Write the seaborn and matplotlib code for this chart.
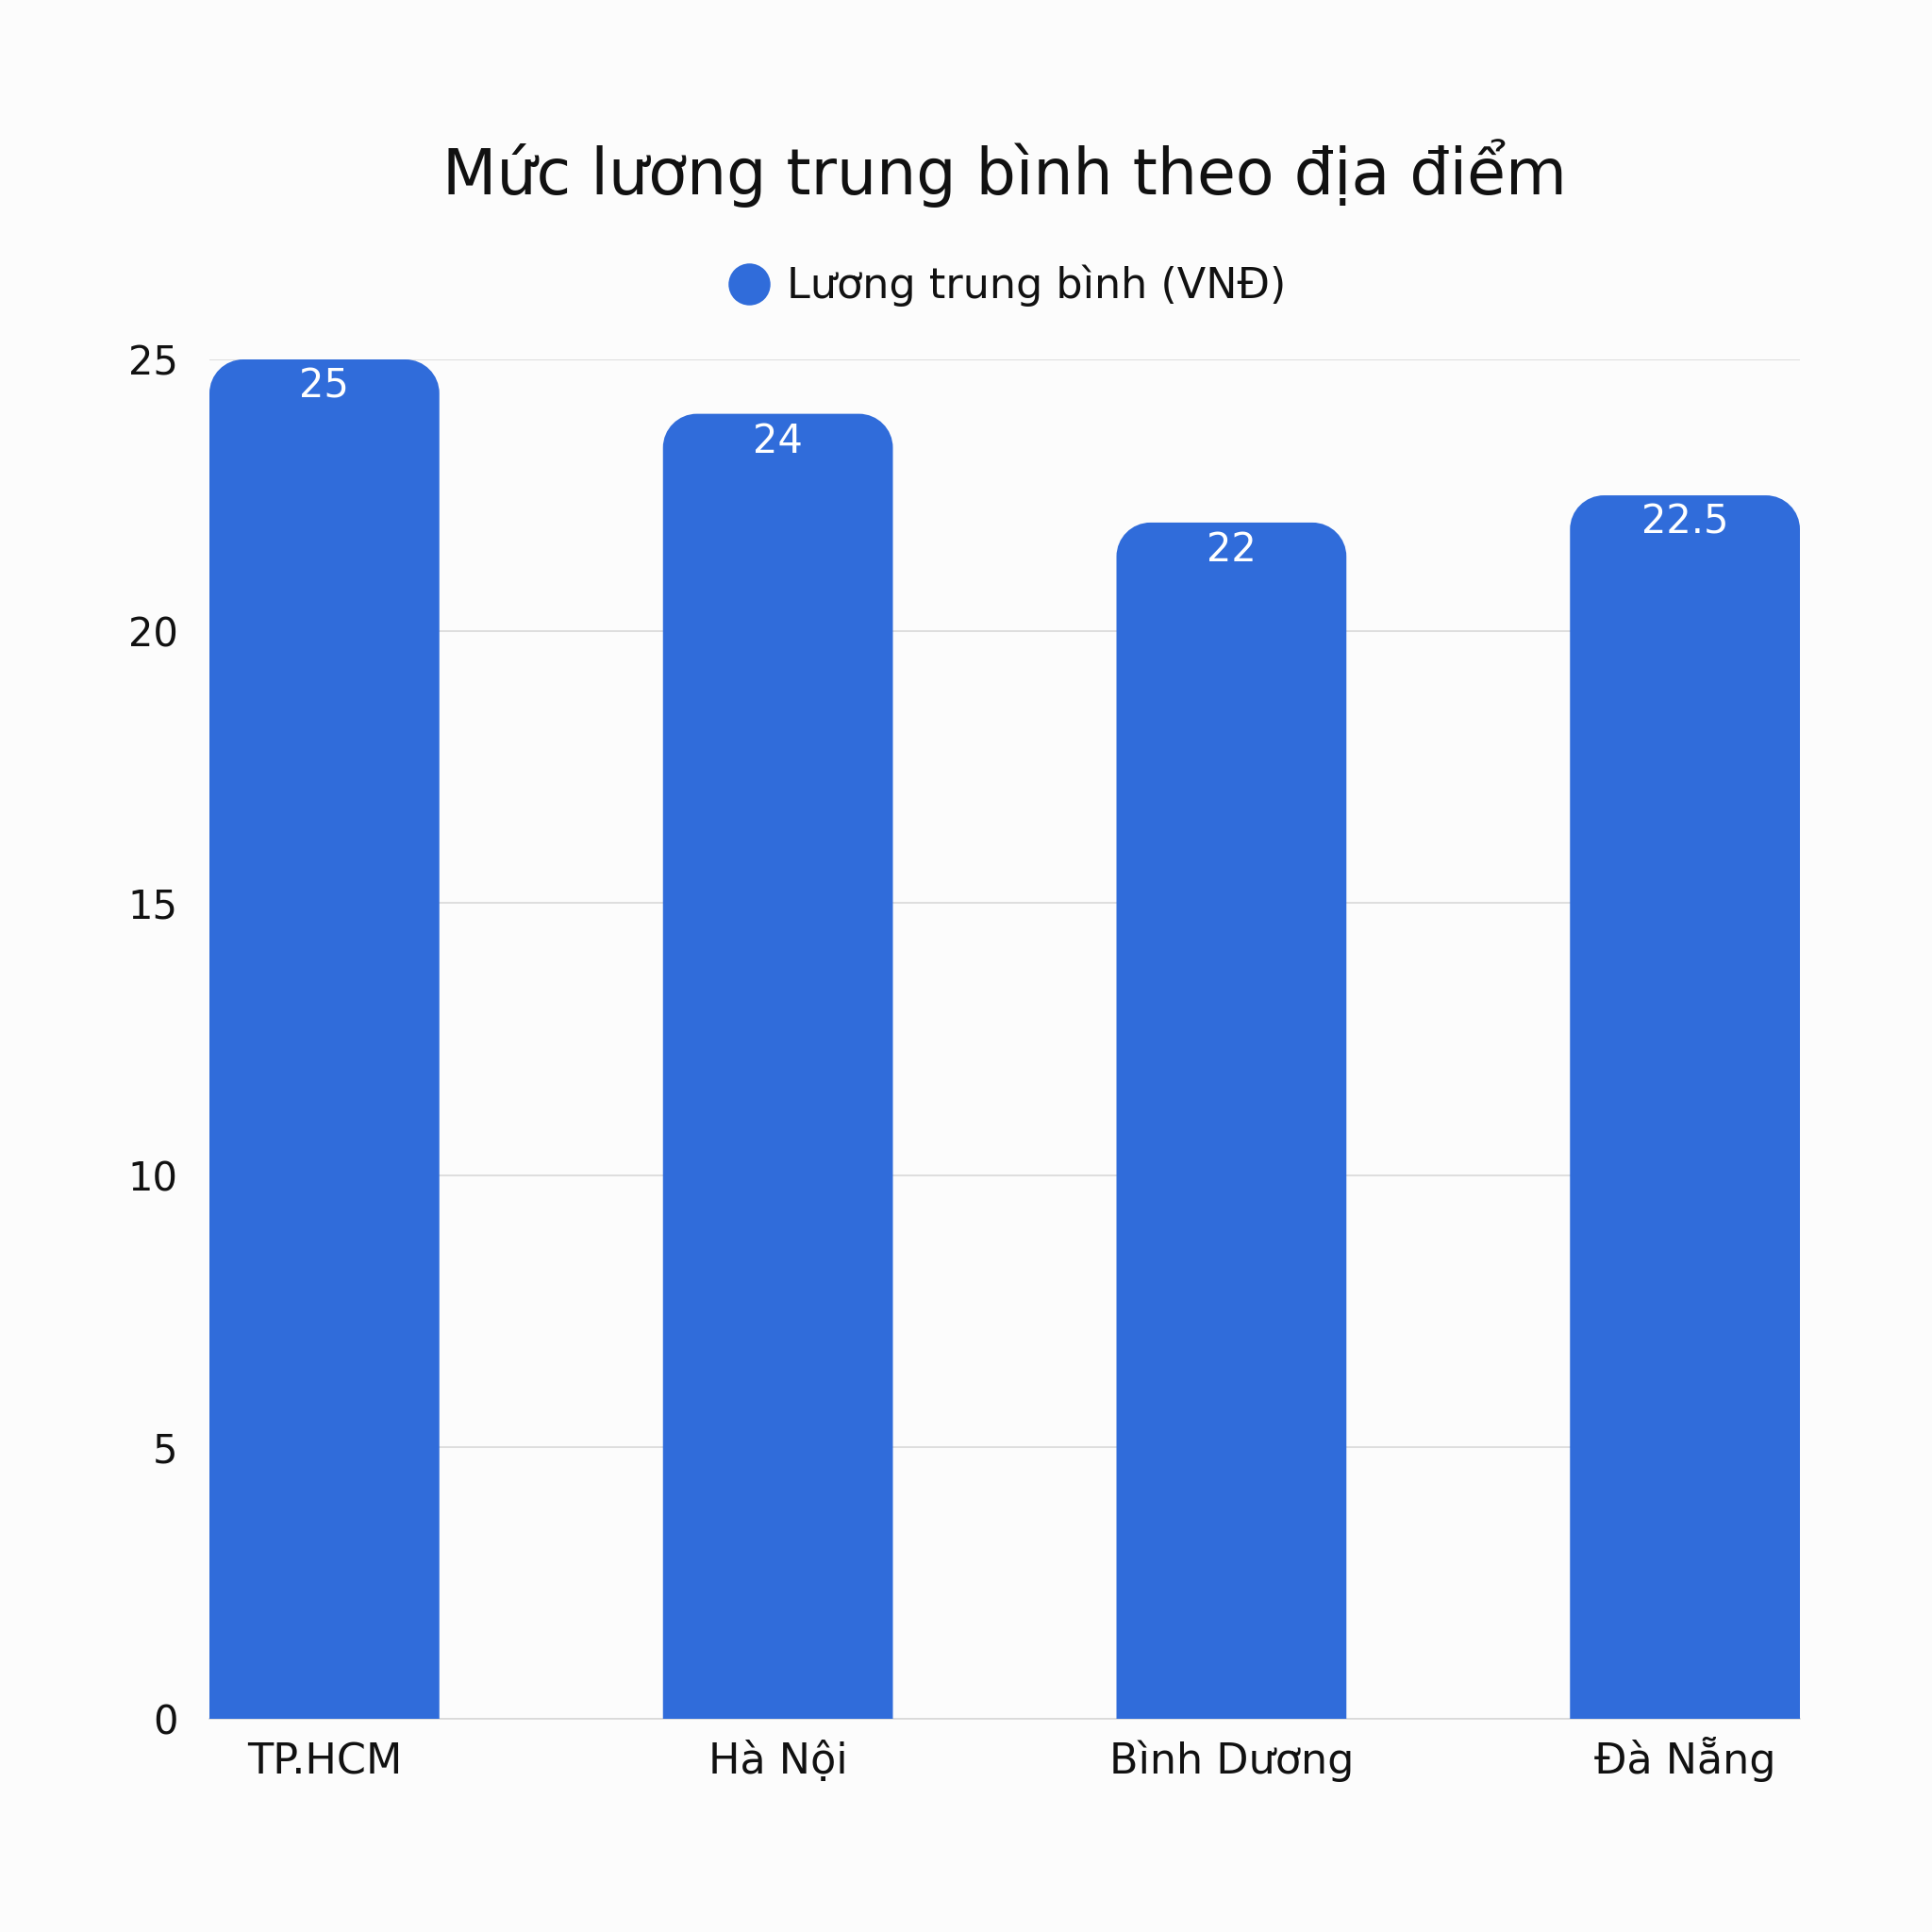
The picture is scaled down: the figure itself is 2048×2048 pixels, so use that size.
import matplotlib
matplotlib.use('Agg')
import matplotlib.pyplot as plt
import seaborn as sns
import pandas as pd
from matplotlib.path import Path
from matplotlib.patches import PathPatch
from matplotlib.lines import Line2D

# data
locations = ['TP.HCM', 'Hà Nội', 'Bình Dương', 'Đà Nẵng']
salary = [25, 24, 22, 22.5]
value_labels = ['25', '24', '22', '22.5']
yticks = [0, 5, 10, 15, 20, 25]
series_name = 'Lương trung bình (VNĐ)'
title = 'Mức lương trung bình theo địa điểm'

bar_color = '#306CDA'
bg = '#FCFCFC'
grid_color = '#D9D9D9'

sns.set_theme(style='white')
plt.rcParams['font.family'] = ['DejaVu Sans']

df = pd.DataFrame({'loc': locations, 'val': salary})

W = 2048
fig = plt.figure(figsize=(10.24, 10.24), dpi=200, facecolor=bg)
ax = fig.add_axes([222 / W, 1 - 1822 / W, (1908 - 222) / W, (1822 - 381) / W])
ax.set_facecolor(bg)

sns.barplot(data=df, x='loc', y='val', color=bar_color, width=0.507,
            saturation=1, errorbar=None, ax=ax, zorder=3)

ax.set_xlim(-0.2535, 3.2535)
ax.set_ylim(0, 25)
ax.set_yticks(yticks)
ax.set_yticklabels([str(t) for t in yticks])
ax.set_xlabel('')
ax.set_ylabel('')
ax.set_axisbelow(True)
ax.yaxis.grid(True, color=grid_color, lw=0.6)
for s in ['top', 'right', 'left']:
    ax.spines[s].set_visible(False)
ax.spines['bottom'].set_color(grid_color)
ax.spines['bottom'].set_linewidth(0.6)
ax.tick_params(axis='y', length=0, labelsize=15, pad=12, colors='#111111')
ax.tick_params(axis='x', length=0, labelsize=16, pad=21, colors='#111111')
for t in ax.get_xticklabels():
    t.set_verticalalignment('baseline')

# replace bars with rounded-top shapes
radius_px = 36
sx = ax.transData.transform((1, 0))[0] - ax.transData.transform((0, 0))[0]
sy = ax.transData.transform((0, 1))[1] - ax.transData.transform((0, 0))[1]
rx = radius_px / sx
ry = radius_px / sy
k = 0.5523
for p in list(ax.patches):
    x0 = p.get_x()
    x1 = x0 + p.get_width()
    y0 = p.get_y()
    y1 = y0 + p.get_height()
    verts = [(x0, y0), (x0, y1 - ry),
             (x0, y1 - ry + k * ry), (x0 + rx - k * rx, y1), (x0 + rx, y1),
             (x1 - rx, y1),
             (x1 - rx + k * rx, y1), (x1, y1 - ry + k * ry), (x1, y1 - ry),
             (x1, y0), (x0, y0)]
    codes = [Path.MOVETO, Path.LINETO,
             Path.CURVE4, Path.CURVE4, Path.CURVE4,
             Path.LINETO,
             Path.CURVE4, Path.CURVE4, Path.CURVE4,
             Path.LINETO, Path.CLOSEPOLY]
    ax.add_patch(PathPatch(Path(verts, codes), facecolor=bar_color,
                           edgecolor='none', zorder=3))
    p.remove()

for i, (v, lab) in enumerate(zip(salary, value_labels)):
    ax.annotate(lab, (i, v), xytext=(0, -10.4), textcoords='offset points',
                ha='center', va='center', color='white', fontsize=15, zorder=5)

cx = (222 + 1908) / 2 / W
fig.text(cx, 1 - 184 / W, title, ha='center', va='center', fontsize=24,
         color='#111111')

handle = Line2D([], [], marker='o', linestyle='none', markersize=15,
                markerfacecolor=bar_color, markeredgecolor=bar_color)
fig.legend([handle], [series_name], loc='center', bbox_to_anchor=(cx, 1 - 303 / W),
           frameon=False, fontsize=16, handletextpad=0.3, handlelength=1.2,
           labelcolor='#111111')

fig.savefig('out.png', dpi=200, facecolor=bg)
